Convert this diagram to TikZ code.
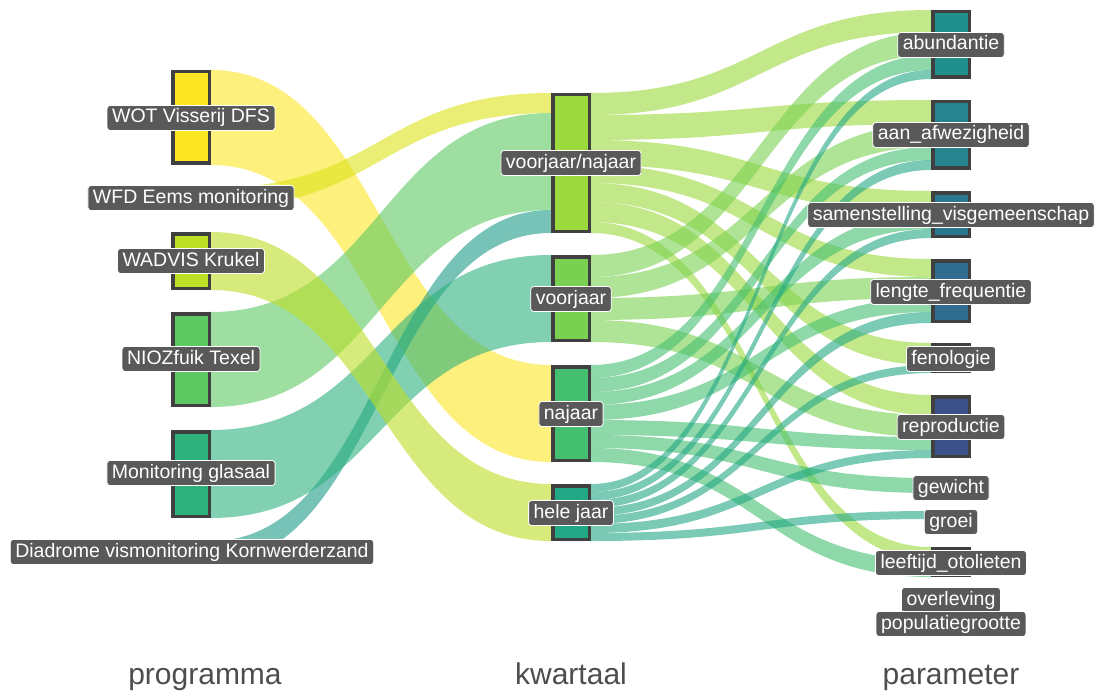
\documentclass[tikz,border=0pt]{standalone}
\usepackage{fontspec}
\setmainfont{Liberation Sans}
\usetikzlibrary{calc}
\definecolor{cWOT}{HTML}{FDE725}
\definecolor{cWFD}{HTML}{DDE318}
\definecolor{cWAD}{HTML}{BDDF26}
\definecolor{cVN}{HTML}{9BD93C}
\definecolor{cV}{HTML}{7AD151}
\definecolor{cNIOZ}{HTML}{5EC962}
\definecolor{cN}{HTML}{44BF70}
\definecolor{cGLAS}{HTML}{2DB27D}
\definecolor{cHJ}{HTML}{22A884}
\definecolor{cDIA}{HTML}{1F9C89}
\definecolor{cAB}{HTML}{21908C}
\definecolor{cAA}{HTML}{25848E}
\definecolor{cSV}{HTML}{2A788E}
\definecolor{cLF}{HTML}{2F6C8E}
\definecolor{cFE}{HTML}{355F8D}
\definecolor{cRE}{HTML}{3B528B}
\definecolor{cGE}{HTML}{414487}
\definecolor{cGR}{HTML}{46337E}
\definecolor{cLO}{HTML}{482475}
\definecolor{boxline}{HTML}{404040}
\definecolor{labgray}{HTML}{595959}
\definecolor{axisgray}{HTML}{4D4D4D}
\tikzset{
  stratum/.style={draw=boxline, line width=3.5pt, minimum width=36.5pt, inner sep=0pt},
  band/.style={fill=#1, fill opacity=0.6},
  lab/.style={fill=labgray, draw=white, line width=0.8pt, rounded corners=3pt, text=white,
    font=\fontsize{19.5}{22}\selectfont, inner xsep=5pt, inner ysep=3pt,
    text height=14.5pt, text depth=4.5pt},
  axislab/.style={text=axisgray, font=\fontsize{30}{34}\selectfont, inner sep=0pt, anchor=base}
}
% flow band: source, top off, bottom off, target, top off, bottom off, colour
\newcommand\flowband[7]{%
  \path[band=#7] let \p1=(#1.north east), \p2=(#4.north west), \p3=($(\p1)!0.5!(\p2)$) in
    (\x1,\y1-#2pt) .. controls (\x3,\y1-#2pt) and (\x3,\y2-#5pt) .. (\x2,\y2-#5pt)
    -- (\x2,\y2-#6pt) .. controls (\x3,\y2-#6pt) and (\x3,\y1-#3pt) .. (\x1,\y1-#3pt) -- cycle;}
\begin{document}
\begin{tikzpicture}[x=1pt,y=-1pt]
\useasboundingbox[fill=white] (0,0) rectangle (1098,698);
% stratum centres
\path
 (191,117.5) coordinate (pWOT) (191,198) coordinate (pWFD) (191,261) coordinate (pWAD)
 (191,359.5) coordinate (pNIOZ) (191,474) coordinate (pGLAS) (191,552) coordinate (pDIA)
 (571,163) coordinate (pVN) (571,298.5) coordinate (pV) (571,413.5) coordinate (pN) (571,512.5) coordinate (pHJ)
 (951,44.5) coordinate (pAB) (951,135) coordinate (pAA) (951,214.5) coordinate (pSV) (951,291) coordinate (pLF)
 (951,358) coordinate (pFE) (951,426.5) coordinate (pRE) (951,485.5) coordinate (pGE) (951,515) coordinate (pGR)
 (951,562) coordinate (pLO);
% strata (named, for the flows)
\begin{scope}[every node/.style={stratum}]
\path
 (pWOT) node[fill=cWOT, minimum height=91.5pt] (WOT) {}
 (pWFD) node[fill=cWFD, minimum height=16.5pt] (WFD) {}
 (pWAD) node[fill=cWAD, minimum height=54.5pt] (WAD) {}
 (pNIOZ) node[fill=cNIOZ, minimum height=91.5pt] (NIOZ) {}
 (pGLAS) node[fill=cGLAS, minimum height=84.5pt] (GLAS) {}
 (pDIA) node[fill=cDIA, minimum height=18.5pt] (DIA) {}
 (pVN) node[fill=cVN, minimum height=136.5pt] (VN) {}
 (pV) node[fill=cV, minimum height=83.5pt] (V) {}
 (pN) node[fill=cN, minimum height=93.5pt] (N) {}
 (pHJ) node[fill=cHJ, minimum height=53.5pt] (HJ) {}
 (pAB) node[fill=cAB, minimum height=65.5pt] (AB) {}
 (pAA) node[fill=cAA, minimum height=66.5pt] (AA) {}
 (pSV) node[fill=cSV, minimum height=43.5pt] (SV) {}
 (pLF) node[fill=cLF, minimum height=60.5pt] (LF) {}
 (pFE) node[fill=cFE, minimum height=26.5pt] (FE) {}
 (pRE) node[fill=cRE, minimum height=59.5pt] (RE) {}
 (pGE) node[fill=cGE, minimum height=11.5pt] (GE) {}
 (pGR) node[fill=cGR, minimum height=4.5pt] (GR) {}
 (pLO) node[fill=cLO, minimum height=26.5pt] (LO) {};
\end{scope}
% flows programma -> kwartaal
\flowband{WOT}{0}{95}{N}{0}{97}{cWOT}
\flowband{WFD}{0}{20}{VN}{0}{20}{cWFD}
\flowband{NIOZ}{0}{95}{VN}{20}{117}{cNIOZ}
\flowband{DIA}{0}{22}{VN}{117}{140}{cDIA}
\flowband{GLAS}{0}{88}{V}{0}{87}{cGLAS}
\flowband{WAD}{0}{58}{HJ}{0}{57}{cWAD}
% flows kwartaal -> parameter
\flowband{VN}{0}{22}{AB}{0}{22}{cVN}
\flowband{VN}{22}{47}{AA}{0}{24}{cVN}
\flowband{VN}{47}{72}{SV}{0}{22}{cVN}
\flowband{VN}{72}{90}{LF}{0}{18}{cVN}
\flowband{VN}{90}{109}{FE}{0}{22}{cVN}
\flowband{VN}{109}{129}{RE}{0}{20}{cVN}
\flowband{VN}{129}{140}{LO}{0}{13}{cVN}
\flowband{V}{0}{22}{AB}{22}{45}{cV}
\flowband{V}{22}{43}{AA}{24}{47}{cV}
\flowband{V}{43}{65}{LF}{18}{39}{cV}
\flowband{V}{65}{87}{RE}{20}{42}{cV}
\flowband{N}{0}{13}{AB}{45}{60}{cN}
\flowband{N}{13}{27}{AA}{47}{60}{cN}
\flowband{N}{27}{40}{SV}{22}{38}{cN}
\flowband{N}{40}{55}{LF}{39}{53}{cN}
\flowband{N}{55}{70}{RE}{42}{55}{cN}
\flowband{N}{70}{83}{GE}{0}{15}{cN}
\flowband{N}{83}{97}{LO}{13}{30}{cN}
\flowband{HJ}{0}{8}{AB}{60}{69}{cHJ}
\flowband{HJ}{8}{16}{AA}{60}{70}{cHJ}
\flowband{HJ}{16}{24}{SV}{38}{47}{cHJ}
\flowband{HJ}{24}{32}{LF}{53}{64}{cHJ}
\flowband{HJ}{32}{40}{FE}{22}{30}{cHJ}
\flowband{HJ}{40}{49}{RE}{55}{63}{cHJ}
\flowband{HJ}{49}{57}{GR}{0}{8}{cHJ}
% strata redrawn on top of flows
\begin{scope}[every node/.style={stratum}]
\node[fill=cWOT, minimum height=91.5pt] at (pWOT) {};
\node[fill=cWFD, minimum height=16.5pt] at (pWFD) {};
\node[fill=cWAD, minimum height=54.5pt] at (pWAD) {};
\node[fill=cNIOZ, minimum height=91.5pt] at (pNIOZ) {};
\node[fill=cGLAS, minimum height=84.5pt] at (pGLAS) {};
\node[fill=cDIA, minimum height=18.5pt] at (pDIA) {};
\node[fill=cVN, minimum height=136.5pt] at (pVN) {};
\node[fill=cV, minimum height=83.5pt] at (pV) {};
\node[fill=cN, minimum height=93.5pt] at (pN) {};
\node[fill=cHJ, minimum height=53.5pt] at (pHJ) {};
\node[fill=cAB, minimum height=65.5pt] at (pAB) {};
\node[fill=cAA, minimum height=66.5pt] at (pAA) {};
\node[fill=cSV, minimum height=43.5pt] at (pSV) {};
\node[fill=cLF, minimum height=60.5pt] at (pLF) {};
\node[fill=cFE, minimum height=26.5pt] at (pFE) {};
\node[fill=cRE, minimum height=59.5pt] at (pRE) {};
\node[fill=cGE, minimum height=11.5pt] at (pGE) {};
\node[fill=cGR, minimum height=4.5pt] at (pGR) {};
\node[fill=cLO, minimum height=26.5pt] at (pLO) {};
\end{scope}
% labels
\node[lab] (lWOT) at (191,118) {WOT Visserij DFS};
\node[lab] (lWFD) at (191,198) {WFD Eems monitoring};
\node[lab] (lWAD) at (191,261) {WADVIS Krukel};
\node[lab] (lNIOZ) at (191,359) {NIOZfuik Texel};
\node[lab] (lGLAS) at (191,473) {Monitoring glasaal};
\node[lab] (lDIA) at (192,552) {Diadrome vismonitoring Kornwerderzand};
\node[lab] (lVN) at (571,163) {voorjaar/najaar};
\node[lab] (lV) at (571,299) {voorjaar};
\node[lab] (lN) at (571,414) {najaar};
\node[lab] (lHJ) at (571,513) {hele jaar};
\node[lab] (lAB) at (951,45) {abundantie};
\node[lab] (lAA) at (951,135) {aan\_afwezigheid};
\node[lab] (lSV) at (951,215) {samenstelling\_visgemeenschap};
\node[lab] (lLF) at (951,292) {lengte\_frequentie};
\node[lab] (lFE) at (951,359) {fenologie};
\node[lab] (lRE) at (951,427) {reproductie};
\node[lab] (lGE) at (951,488) {gewicht};
\node[lab] (lGR) at (951,522) {groei};
\node[lab] (lLO) at (951,563) {leeftijd\_otolieten};
\node[lab] (lOV) at (951,600) {overleving};
\node[lab] (lPG) at (951,624) {populatiegrootte};
% axis labels
\node[axislab] (axP) at (205,684) {programma};
\node[axislab] (axK) at (571,684) {kwartaal};
\node[axislab] (axM) at (951,684) {parameter};
\end{tikzpicture}
\end{document}
